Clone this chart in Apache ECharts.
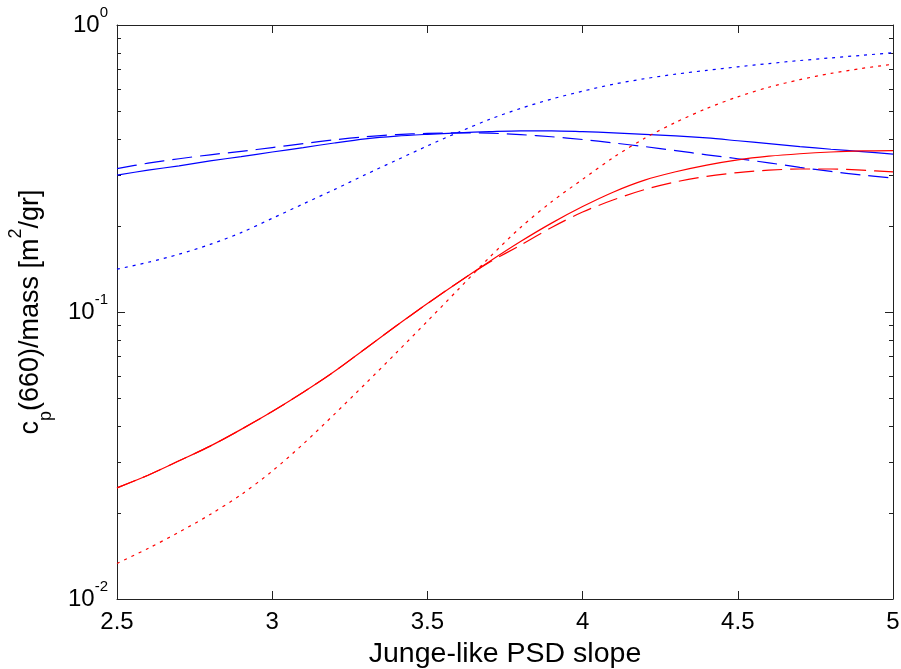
<!DOCTYPE html>
<html><head><meta charset="utf-8">
<script src="https://cdn.jsdelivr.net/npm/echarts@6/dist/echarts.min.js"></script>
<style>html,body{margin:0;padding:0;background:#fff}#c{width:901px;height:669px}</style>
</head><body><div id="c"></div>
<script>
// ---- data ----
const slope = [2.5,2.6,2.7,2.8,2.9,3.0,3.1,3.2,3.3,3.4,3.5,3.6,3.7,3.8,3.9,4.0,4.1,4.2,4.3,4.4,4.5,4.6,4.7,4.8,4.9,5.0];
const blueSolid  = [0.300,0.312,0.323,0.336,0.348,0.361,0.374,0.388,0.401,0.410,0.416,0.421,0.425,0.428,0.428,0.425,0.421,0.416,0.411,0.404,0.395,0.386,0.377,0.369,0.362,0.355];
const blueDashed = [0.316,0.330,0.342,0.353,0.363,0.374,0.386,0.398,0.408,0.415,0.419,0.421,0.420,0.415,0.408,0.399,0.388,0.377,0.365,0.353,0.342,0.331,0.319,0.309,0.300,0.293];
const blueDotted = [0.141,0.149,0.159,0.172,0.189,0.212,0.238,0.267,0.301,0.338,0.379,0.423,0.469,0.512,0.552,0.588,0.622,0.650,0.674,0.695,0.715,0.734,0.752,0.768,0.784,0.800];
const redSolid   = [0.0244,0.0270,0.0303,0.0341,0.0390,0.0450,0.0525,0.0620,0.0745,0.0895,0.107,0.127,0.150,0.176,0.204,0.233,0.262,0.288,0.308,0.325,0.339,0.349,0.356,0.361,0.364,0.365];
const redDashed  = [0.0244,0.0270,0.0303,0.0341,0.0390,0.0450,0.0525,0.0620,0.0745,0.0895,0.107,0.127,0.149,0.171,0.197,0.223,0.246,0.267,0.284,0.297,0.306,0.312,0.315,0.315,0.312,0.308];
const redDotted  = [0.0133,0.0150,0.0171,0.0197,0.0231,0.0279,0.0347,0.0440,0.0562,0.0721,0.0929,0.120,0.155,0.197,0.242,0.290,0.346,0.403,0.458,0.512,0.562,0.607,0.645,0.678,0.706,0.730];
const minorTickValues = [0.02,0.03,0.04,0.05,0.06,0.07,0.08,0.09,0.2,0.3,0.4,0.5,0.6,0.7,0.8,0.9];
const xTitle = 'Junge-like PSD slope';

const FONT = 'Liberation Sans, Arial, Helvetica, sans-serif';
const AX = '#222';
const pairs = arr => slope.map((x, i) => [x, arr[i]]);

function line(name, data, color, type) {
  return {
    name, type: 'line', data: pairs(data), showSymbol: false, smooth: 0.3,
    lineStyle: { color, width: 1.2, type }, itemStyle: { color }, silent: true
  };
}

const chart = echarts.init(document.getElementById('c'), null, { renderer: 'canvas' });
chart.setOption({
  animation: false,
  backgroundColor: '#fff',
  grid: { left: 117, right: 8, top: 25, bottom: 70, containLabel: false, outerBoundsMode: 'none' },
  xAxis: [{
    type: 'value', min: 2.5, max: 5, interval: 0.5, position: 'bottom',
    axisLine: { show: true, onZero: false, lineStyle: { color: AX, width: 1 } },
    axisTick: { show: true, inside: true, length: 8, lineStyle: { color: AX } },
    axisLabel: { color: '#000', fontSize: 24, fontFamily: FONT, margin: 11 },
    splitLine: { show: false },
    name: xTitle, nameLocation: 'middle', nameGap: 37,
    nameTextStyle: { color: '#000', fontSize: 28.5, fontFamily: FONT, lineHeight: 30 }
  }, {
    type: 'value', min: 2.5, max: 5, interval: 0.5, position: 'top',
    axisLine: { show: true, onZero: false, lineStyle: { color: AX, width: 1 } },
    axisTick: { show: true, inside: true, length: 8, lineStyle: { color: AX } },
    axisLabel: { show: false }, splitLine: { show: false }
  }],
  yAxis: [{
    type: 'log', logBase: 10, min: 0.01, max: 1, position: 'left',
    axisLine: { show: true, onZero: false, lineStyle: { color: AX, width: 1 } },
    axisTick: { show: true, inside: true, length: 8, lineStyle: { color: AX } },
    axisLabel: {
      margin: 9, color: '#000', fontFamily: FONT,
      formatter: v => '{b|10}{s|' + Math.round(Math.log10(v)) + '}',
      rich: {
        b: { fontSize: 24, fontFamily: FONT, color: '#000', lineHeight: 40 },
        s: { fontSize: 15, fontFamily: FONT, color: '#000', verticalAlign: 'top', lineHeight: 16 }
      }
    },
    splitLine: { show: false },
    name: 'c{p|p}(660)/mass [m{s|2}/gr]', nameLocation: 'middle', nameGap: 62, nameRotate: 90,
    nameTextStyle: {
      color: '#000', fontSize: 27, fontFamily: FONT, lineHeight: 48,
      rich: {
        p: { fontSize: 18, fontFamily: FONT, color: '#000', verticalAlign: 'bottom', lineHeight: 18 },
        s: { fontSize: 18, fontFamily: FONT, color: '#000', verticalAlign: 'top', lineHeight: 18 }
      }
    }
  }, {
    type: 'log', logBase: 10, min: 0.01, max: 1, position: 'right',
    axisLine: { show: true, onZero: false, lineStyle: { color: AX, width: 1 } },
    axisTick: { show: true, inside: true, length: 8, lineStyle: { color: AX } },
    axisLabel: { show: false }, splitLine: { show: false }
  }],
  series: [
    line('blue solid', blueSolid, '#0000ff', 'solid'),
    line('blue dashed', blueDashed, '#0000ff', [20, 8]),
    line('blue dotted', blueDotted, '#0000ff', [3, 5]),
    line('red solid', redSolid, '#ff0000', 'solid'),
    line('red dashed', redDashed, '#ff0000', [20, 8]),
    line('red dotted', redDotted, '#ff0000', [3, 5]),
    {
      name: 'minor ticks', type: 'custom', silent: true, clip: false,
      data: minorTickValues.map(v => [2.5, v]),
      renderItem: (params, api) => {
        const v = api.value(1);
        const l = api.coord([2.5, v]);
        const r = api.coord([5, v]);
        const y = Math.round(l[1]) + 0.5;
        return { type: 'group', children: [
          { type: 'line', shape: { x1: l[0], y1: y, x2: l[0] + 4, y2: y }, style: { stroke: AX, lineWidth: 1 } },
          { type: 'line', shape: { x1: r[0] - 4, y1: y, x2: r[0], y2: y }, style: { stroke: AX, lineWidth: 1 } }
        ]};
      }
    }
  ]
});
</script></body></html>
